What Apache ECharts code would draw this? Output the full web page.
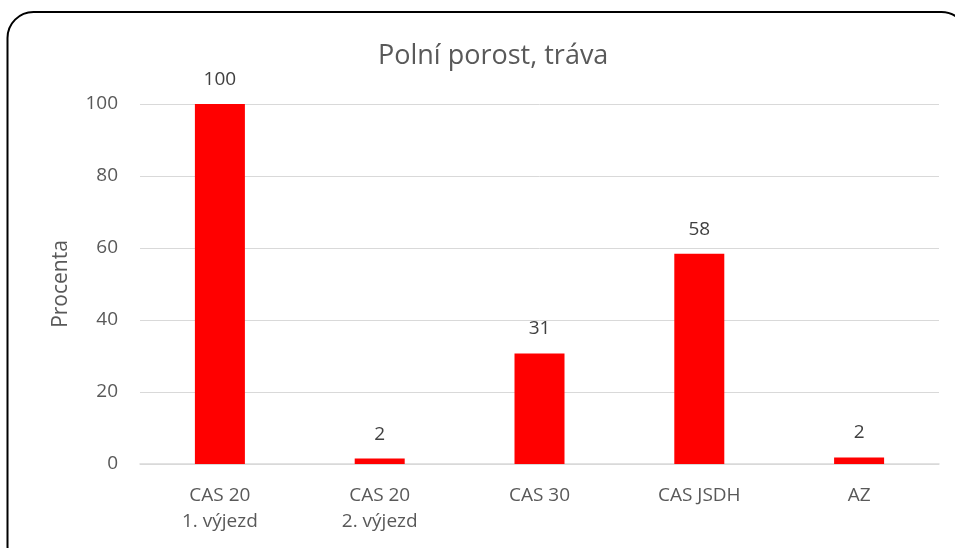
<!DOCTYPE html>
<html>
<head>
<meta charset="utf-8">
<script src="https://cdn.jsdelivr.net/npm/echarts@6/dist/echarts.min.js"></script>
<style>
  html, body { margin: 0; padding: 0; background: #fff; }
  #chart { width: 955px; height: 548px; }
</style>
</head>
<body>
<div id="chart"></div>
<script>
// data
const categories = ['CAS 20\n1. výjezd', 'CAS 20\n2. výjezd', 'CAS 30', 'CAS JSDH', 'AZ'];
const values = [100, 1.5, 30.7, 58.4, 1.8];
const yTicks = [0, 20, 40, 60, 80, 100];

const font = '"Open Sans", "Noto Sans", sans-serif';
const grey = '#595959';

const chart = echarts.init(document.getElementById('chart'));
chart.setOption({
    backgroundColor: '#ffffff',
    animation: false,
    title: {
        text: 'Polní porost, tráva',
        left: 373,
        top: 38,
        textStyle: { color: grey, fontFamily: font, fontSize: 27, fontWeight: 'normal' }
    },
    graphic: [{
        type: 'rect',
        shape: { x: 7.5, y: 12, width: 960, height: 560, r: 26 },
        style: { fill: 'none', stroke: '#000', lineWidth: 2 },
        silent: true
    }],
    grid: { left: 140, right: 16, top: 104, bottom: 84 },
    xAxis: {
        type: 'category',
        data: categories,
        axisLine: { lineStyle: { color: '#d9d9d9', width: 1.5 } },
        axisTick: { show: false },
        axisLabel: { color: grey, fontFamily: font, fontSize: 19, lineHeight: 26, margin: 19 }
    },
    yAxis: {
        type: 'value',
        min: yTicks[0],
        max: yTicks[yTicks.length - 1],
        interval: 20,
        name: 'Procenta',
        nameLocation: 'middle',
        nameGap: 68,
        nameTextStyle: { color: grey, fontFamily: font, fontSize: 21 },
        axisLine: { show: false },
        axisTick: { show: false },
        axisLabel: { color: grey, fontFamily: font, fontSize: 19, margin: 22 },
        splitLine: { lineStyle: { color: '#d9d9d9', width: 1 } }
    },
    series: [{
        type: 'bar',
        data: values,
        barWidth: 50,
        itemStyle: { color: '#ff0000' },
        label: {
            show: true,
            position: 'top',
            distance: 15,
            color: '#404040',
            fontFamily: font,
            fontSize: 19,
            formatter: p => Math.round(p.value)
        }
    }]
});
</script>
</body>
</html>
